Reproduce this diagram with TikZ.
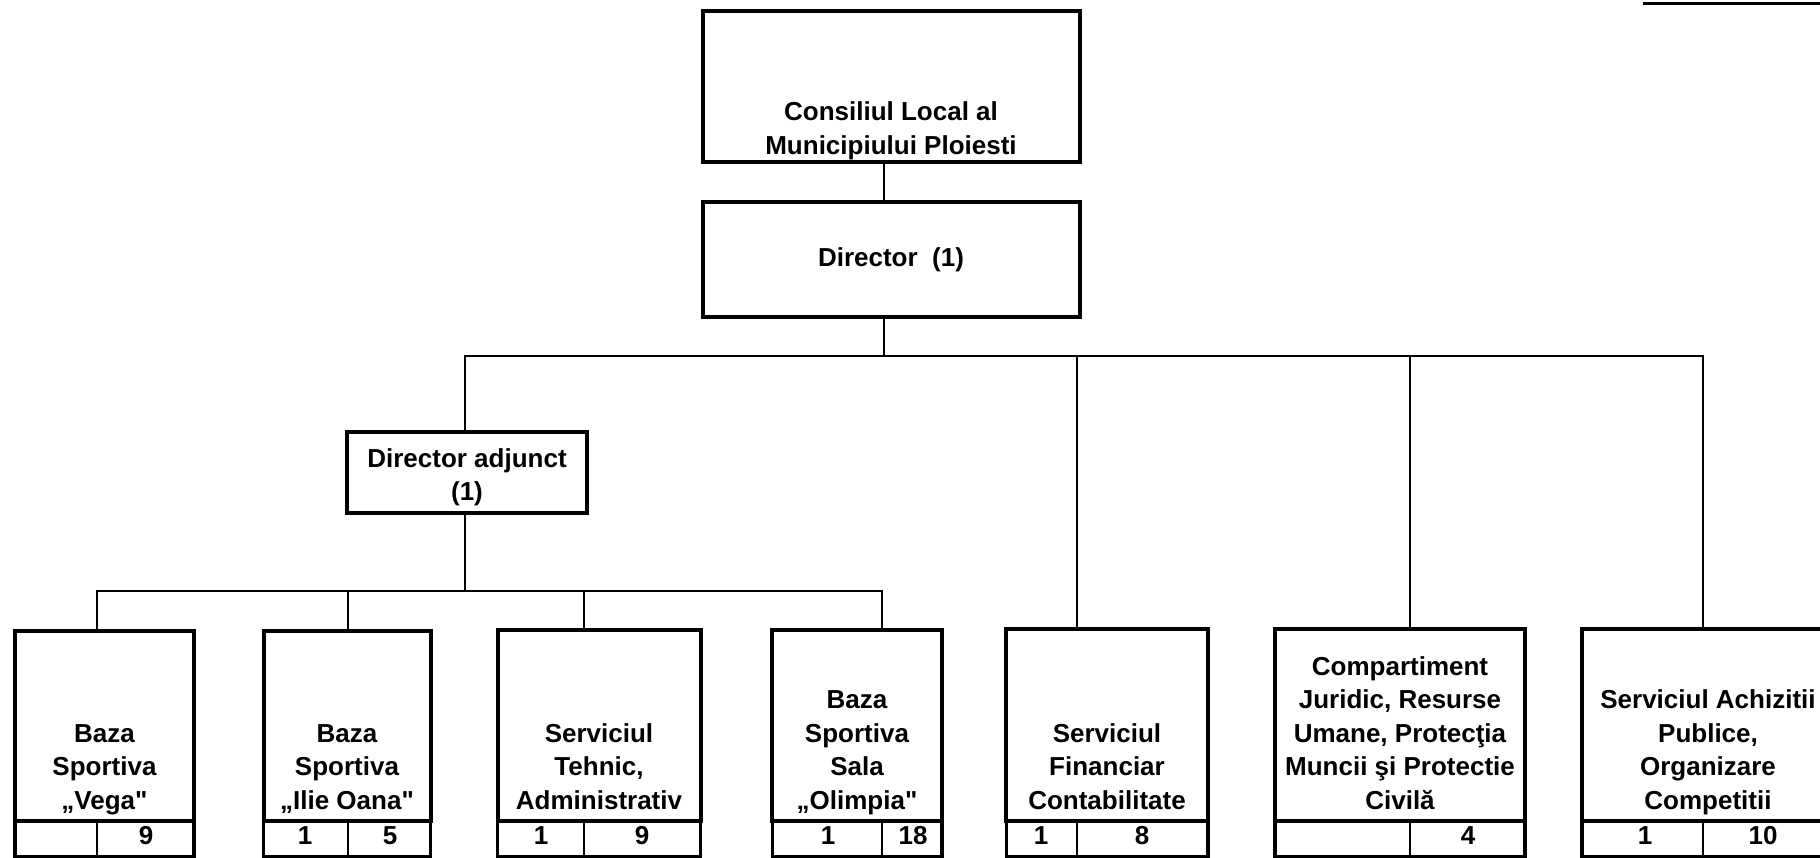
\documentclass[tikz,border=0pt]{standalone}
\usepackage{fontspec}
\setmainfont{Liberation Sans}[Ligatures=TeXOff]
\usetikzlibrary{positioning,calc}
\newcommand{\lowstrut}{\rule[-8pt]{0pt}{8pt}}

\begin{document}
\begin{tikzpicture}[x=1pt, y=-1pt,
  every node/.style={font=\fontsize{26}{33.5}\selectfont\bfseries, inner sep=0pt, outer sep=0pt},
  unit/.style={draw, line width=4pt},
  unitrow/.style={draw, line width=3.5pt, anchor=north, minimum height=36pt},
  title/.style={align=center, anchor=south},
  link/.style={line width=2.4pt},
  cut/.style={line width=2.4pt}]
\useasboundingbox (0,0) rectangle (1820,858);
\clip (0,0) rectangle (1820,858);

% top of the chart
\node[unit, minimum width=377pt, minimum height=151pt] (consiliul) at (891,87) {};
\node[title] (consiliultxt) at (consiliul.south) {Consiliul Local al\\Municipiului Ploiesti\lowstrut};
\node[unit, minimum width=377pt, minimum height=115pt] (director) at (891,259.5) {Director\ \ (1)};
\node[unit, minimum width=240pt, minimum height=81pt, align=center] (adjunct) at (467,472.5) {\rule{0pt}{28pt}Director adjunct\\(1)};

% units under the deputy director
\node[unit, minimum width=179pt, minimum height=190pt] (vega) at (104.5,726) {};
\node[title] (vegatxt) at ([yshift=4pt]vega.south) {Baza\\Sportiva\\„Vega"\lowstrut};
\node[unitrow, minimum width=179pt] (vegarow) at (vega.south) {};
\node[unit, minimum width=167pt, minimum height=190pt] (oana) at (347,726) {};
\node[title] (oanatxt) at ([yshift=4pt]oana.south) {Baza\\Sportiva\\„Ilie Oana"\lowstrut};
\node[unitrow, minimum width=167pt] (oanarow) at (oana.south) {};
\node[unit, minimum width=203pt, minimum height=191pt] (tehnic) at (599,725.5) {};
\node[title] (tehnictxt) at ([yshift=4pt]tehnic.south) {Serviciul\\Tehnic,\\Administrativ\lowstrut};
\node[unitrow, minimum width=203pt] (tehnicrow) at (tehnic.south) {};
\node[unit, minimum width=169.5pt, minimum height=191pt] (olimpia) at (857,725.5) {};
\node[title] (olimpiatxt) at ([yshift=4pt]olimpia.south) {Baza\\Sportiva\\Sala\\„Olimpia"\lowstrut};
\node[unitrow, minimum width=169.5pt] (olimpiarow) at (olimpia.south) {};

% units under the director
\node[unit, minimum width=201.5pt, minimum height=192pt] (financiar) at (1107,725) {};
\node[title] (financiartxt) at ([yshift=4pt]financiar.south) {Serviciul\\Financiar\\Contabilitate\lowstrut};
\node[unitrow, minimum width=201.5pt] (financiarrow) at (financiar.south) {};
\node[unit, minimum width=250pt, minimum height=192pt] (compartiment) at (1400,725) {};
\node[title] (compartimenttxt) at ([yshift=4pt]compartiment.south) {Compartiment\\Juridic, Resurse\\Umane, Protecţia\\Muncii şi Protectie\\Civilă\lowstrut};
\node[unitrow, minimum width=250pt] (compartimentrow) at (compartiment.south) {};
\node[unit, minimum width=252pt, minimum height=192pt] (achizitii) at (1708,725) {};
\node[title] (achizitiitxt) at ([yshift=4pt]achizitii.south) {Serviciul Achizitii\\Publice,\\Organizare\\Competitii\lowstrut};
\node[unitrow, minimum width=252pt] (achizitiirow) at (achizitii.south) {};

% staff numbers
\node (vegaB) at (146,836) {9};
\node (oanaA) at (305,836) {1};
\node (oanaB) at (390,836) {5};
\node (tehnicA) at (541,836) {1};
\node (tehnicB) at (642,836) {9};
\node (olimpiaA) at (828,836) {1};
\node (olimpiaB) at (913,836) {18};
\node (financiarA) at (1041,836) {1};
\node (financiarB) at (1142,836) {8};
\node (compartimentB) at (1468,836) {4};
\node (achizitiiA) at (1645,836) {1};
\node (achizitiiB) at (1763,836) {10};

% bus junctions
\coordinate (topbus) at (884,356);
\coordinate (lowbus) at (465,591);
\coordinate (fincut) at (1077,356);
\coordinate (compcut) at (1410,356);
\coordinate (achcut) at (1703,356);
\coordinate (vegacut) at (97,591);
\coordinate (oanacut) at (348,591);
\coordinate (tehcut) at (584,591);
\coordinate (olicut) at (882,591);

\draw[link] (consiliul.south -| topbus) -- (director.north -| topbus);
\draw[link] (director.south -| topbus) -- (topbus);
\draw[link] (adjunct.north -| lowbus) |- (achcut) -- (achcut |- achizitii.north);
\draw[link] (fincut) -- (fincut |- financiar.north);
\draw[link] (compcut) -- (compcut |- compartiment.north);
\draw[link] (adjunct.south -| lowbus) -- (lowbus);
\draw[link] (vega.north -| vegacut) |- (olicut) -- (olicut |- olimpia.north);
\draw[link] (oanacut) -- (oanacut |- oana.north);
\draw[link] (tehcut) -- (tehcut |- tehnic.north);

% dividers in the number rows
\draw[cut] (vegacut |- vegarow.north) -- (vegacut |- vegarow.south);
\draw[cut] (oanacut |- oanarow.north) -- (oanacut |- oanarow.south);
\draw[cut] (tehcut |- tehnicrow.north) -- (tehcut |- tehnicrow.south);
\draw[cut] (olicut |- olimpiarow.north) -- (olicut |- olimpiarow.south);
\draw[cut] (fincut |- financiarrow.north) -- (fincut |- financiarrow.south);
\draw[cut] (compcut |- compartimentrow.north) -- (compcut |- compartimentrow.south);
\draw[cut] (achcut |- achizitiirow.north) -- (achcut |- achizitiirow.south);

% rule at the page corner
\draw[line width=3pt] (1643,4) -- (1820,4);
\end{tikzpicture}
\end{document}
